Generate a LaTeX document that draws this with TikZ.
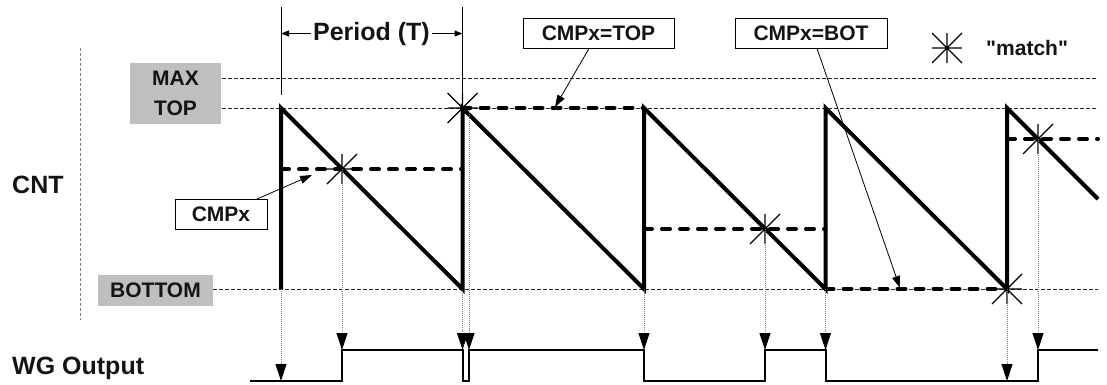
\documentclass[tikz,border=0pt]{standalone}
\usepackage{fontspec}
\setmainfont{Liberation Sans}[Ligatures=TeXOff]
\usetikzlibrary{arrows.meta,calc}
\newcommand\myBigFont{\fontsize{25}{28}\selectfont\bfseries}
\newcommand\mySmallFont{\fontsize{21}{24}\selectfont\bfseries}
\begin{document}
\begin{tikzpicture}[x=1pt,y=-1pt,
  txt/.style={text=black!92, inner sep=0pt},
  bigtxt/.style={txt, font=\myBigFont},
  smalltxt/.style={txt, font=\mySmallFont},
  graybox/.style={fill=gray!50, draw=none, inner sep=0pt},
  labelbox/.style={draw=black, line width=1pt, fill=white, inner sep=0pt, font=\mySmallFont, text=black!92, minimum height=30pt},
  refline/.style={line width=0.8pt, dash pattern=on 4pt off 2pt, black!85},
  cntaxis/.style={line width=0.8pt, dash pattern=on 3pt off 2pt, gray},
  saw/.style={line width=4pt},
  cmpline/.style={line width=4pt, dash pattern=on 8pt off 10pt, line cap=round},
  trig/.style={line width=1pt, gray, dash pattern=on 1pt off 1pt, -{Triangle[length=17pt,width=11pt,color=black,fill=black]}},
  wg/.style={line width=2pt},
  callout/.style={line width=0.8pt, -{Triangle[length=12pt,width=8pt]}},
  periodarrow/.style={line width=1pt, -{Triangle[length=8pt,width=6pt]}},
  periodmark/.style={line width=1pt},
  matchstar/.pic={\draw[line width=1.1pt,black] (-15,0)--(15,0) (0,-15)--(0,15) (-15,-15)--(15,15) (-15,15)--(15,-15);}
]
\useasboundingbox (0,0) rectangle (1107,384);

% ---- coordinates of the sawtooth
\coordinate (e0b) at (281,289);   \coordinate (e0t) at (281,108);
\coordinate (e1b) at (462.5,289); \coordinate (e1t) at (462.5,108);
\coordinate (e2b) at (644,289);   \coordinate (e2t) at (644,108);
\coordinate (e3b) at (825.5,289); \coordinate (e3t) at (825.5,108);
\coordinate (e4b) at (1007,289);  \coordinate (e4t) at (1007,108);
\coordinate (sawend) at (1098,199);

% ---- compare levels and matches
\coordinate (c1a) at (281,169);  \coordinate (c1b) at (462.5,169); \coordinate (m1) at (342,169);
\coordinate (c3a) at (644,229);  \coordinate (c3b) at (825.5,229); \coordinate (m3) at (765,229);
\coordinate (c5a) at (1007,139); \coordinate (c5b) at (1098,139);  \coordinate (m5) at (1038,139);
\coordinate (m2off) at (469,110);

% ---- WG waveform points
\coordinate (w0) at (250,381);
\coordinate (t0) at (281,381);
\coordinate (w1) at (342,381);  \coordinate (w2) at (342,350);
\coordinate (w3) at (462.5,350); \coordinate (w4) at (462.5,381);
\coordinate (w5) at (469,381);  \coordinate (w6) at (469,350);
\coordinate (w7) at (644,350);  \coordinate (w8) at (644,381);
\coordinate (w9) at (765,381);  \coordinate (w10) at (765,350);
\coordinate (w11) at (825.5,350); \coordinate (w12) at (825.5,381);
\coordinate (t4) at (1007,381);
\coordinate (w13) at (1038,381); \coordinate (w14) at (1038,350);
\coordinate (w15) at (1098,350);

% ---- labels on the left
\node[graybox, minimum width=91pt, minimum height=61pt] (mtbox) at (175.5,93.5) {};
\node[smalltxt] (maxlbl) at (175.5,78.5) {MAX};
\node[smalltxt] (toplbl) at (175.5,108) {TOP};
\node[graybox, minimum width=115pt, minimum height=31pt, font=\mySmallFont, text=black!92] (botlbl) at (155.5,290.5) {BOTTOM};
\node[bigtxt, anchor=base west] (cnt) at (12,193) {CNT};
\node[bigtxt, anchor=base west] (wglbl) at (12,374) {WG Output};

% ---- reference lines
\coordinate (mx0) at (222,78);  \coordinate (mx1) at (1098,78);
\coordinate (tp0) at (222,108); \coordinate (tp1) at (1098,108);
\coordinate (bt0) at (213,289); \coordinate (bt1) at (1098,289);
\draw[refline] (mx0) -- (mx1);
\draw[refline] (tp0) -- (tp1);
\draw[refline] (bt0) -- (bt1);
\coordinate (ax0) at (80,48); \coordinate (ax1) at (80,320);
\draw[cntaxis] (ax0) -- (ax1);

% ---- compare dashed lines
\draw[cmpline] (c1a) -- (c1b);
\draw[cmpline] (e1t) -- (e2t);
\draw[cmpline] (c3a) -- (c3b);
\draw[cmpline] (e3b) -- (e4b);
\draw[cmpline] (c5a) -- (c5b);

% ---- sawtooth
\draw[saw] (e0b) -- (e0t) -- (e1b) -- (e1t) -- (e2b) -- (e2t) -- (e3b) -- (e3t) -- (e4b) -- (e4t) -- (sawend);

% ---- match stars
\pic (s1) at (m1) {matchstar};
\pic (s2) at (e1t) {matchstar};
\pic (s3) at (m3) {matchstar};
\pic (s4) at (e4b) {matchstar};
\pic (s5) at (m5) {matchstar};

% ---- trigger arrows
\draw[trig] (e0b) -- (t0);
\draw[trig] (m1) -- (w2);
\draw[trig] (e1b) -- (w3);
\draw[trig] (m2off) -- (w6);
\draw[trig] (e2b) -- (w7);
\draw[trig] (m3) -- (w10);
\draw[trig] (e3b) -- (w11);
\draw[trig] (e4b) -- (t4);
\draw[trig] (m5) -- (w14);

% ---- WG output
\draw[wg] (w0) -- (w1) -- (w2) -- (w3) -- (w4) -- (w5) -- (w6) -- (w7) -- (w8) -- (w9) -- (w10) -- (w11) -- (w12) -- (w13) -- (w14) -- (w15);

% ---- period
\coordinate (pa0) at (281,7);   \coordinate (pa1) at (281,95);
\coordinate (pb0) at (462.5,7);
\draw[periodmark] (pa0) -- (pa1);
\draw[periodmark] (pb0) -- (e1t);
\node[bigtxt, anchor=base, inner sep=1.5pt] (period) at (371.5,40) {Period (T)};
\draw[periodarrow] (period.west) -- (period.west -| pa0);
\draw[periodarrow] (period.east) -- (period.east -| pb0);

% ---- callout boxes
\node[labelbox, minimum width=92pt] (cmpx) at (221,214.5) {CMPx};
\coordinate (cmpxtip) at (312,175);
\draw[callout] ($(cmpx.north)+(36,0)$) -- (cmpxtip);
\node[labelbox, minimum width=151pt] (cmptop) at (598.5,33) {CMPx=TOP};
\coordinate (cmptoptip) at (555,107);
\draw[callout] ($(cmptop.south)+(-9.5,0)$) -- (cmptoptip);
\node[labelbox, minimum width=152pt] (cmpbot) at (811,33) {CMPx=BOT};
\coordinate (cmpbottip) at (900,288);
\draw[callout] ($(cmpbot.south)+(6,0)$) -- (cmpbottip);

% ---- legend
\pic (legstar) at (947,48) {matchstar};
\node[smalltxt, anchor=base west] (matchlbl) at (986,55) {"match"};
\end{tikzpicture}
\end{document}
